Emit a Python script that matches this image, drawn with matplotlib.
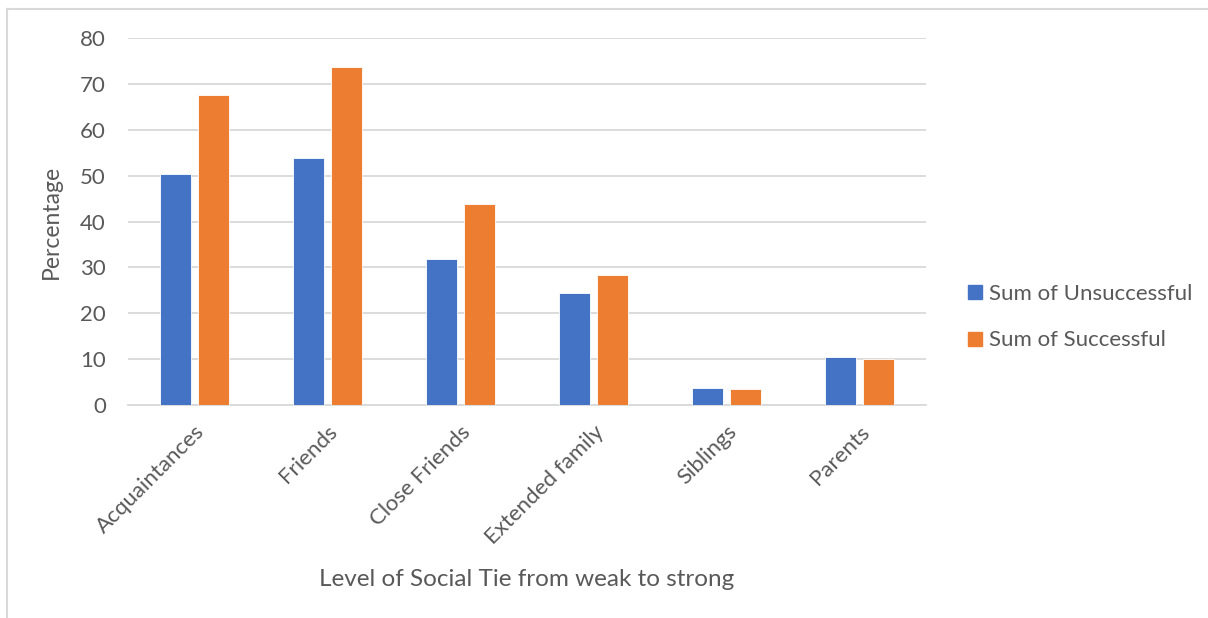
import matplotlib
matplotlib.use("Agg")
from matplotlib import pyplot as plt
from matplotlib.lines import Line2D
import numpy as np

categories = ["Acquaintances", "Friends", "Close Friends",
              "Extended family", "Siblings", "Parents"]
unsuccessful = [50.4, 53.9, 31.8, 24.5, 3.8, 10.4]
successful = [67.6, 73.8, 43.8, 28.3, 3.5, 10.0]
y_ticks = [0, 10, 20, 30, 40, 50, 60, 70, 80]

text_color = "#595959"
plt.rcParams["font.family"] = ["Lato", "DejaVu Sans"]

fig = plt.figure(figsize=(12.08, 6.18), dpi=100)
ax = fig.add_axes([128 / 1208, 1 - 405 / 618, (926 - 128) / 1208, (405 - 38.3) / 618])

x = np.arange(len(categories))
w = 0.23
gap = 0.058
ax.bar(x - (w + gap) / 2, unsuccessful, w, color="#4472C4",
       edgecolor="white", linewidth=0.6, label="Sum of Unsuccessful", zorder=3)
ax.bar(x + (w + gap) / 2, successful, w, color="#ED7D31",
       edgecolor="white", linewidth=0.6, label="Sum of Successful", zorder=3)

ax.set_xlim(-0.5, len(categories) - 0.5)
ax.set_ylim(0, 80)
ax.set_yticks(y_ticks)
ax.grid(axis="y", color="#d9d9d9", linewidth=1.3, zorder=0)
for side in ["top", "right", "left"]:
    ax.spines[side].set_visible(False)
ax.spines["bottom"].set_color("#d9d9d9")
ax.spines["bottom"].set_linewidth(1.3)
ax.tick_params(axis="y", length=0, pad=16, labelsize=16, labelcolor=text_color)
ax.tick_params(axis="x", length=0, pad=12, labelsize=16, labelcolor=text_color)

ax.set_xticks(x)
ax.set_xticklabels(categories, rotation=45, ha="right", rotation_mode="anchor")

ax.set_ylabel("Percentage", fontsize=16.5, color=text_color, labelpad=13)
fig.text(527 / 1208, 1 - 579 / 618, "Level of Social Tie from weak to strong",
         fontsize=17.5, color=text_color, ha="center", va="center")

handles = [Line2D([], [], marker="s", linestyle="none", markersize=10,
                  color=c) for c in ["#4472C4", "#ED7D31"]]
fig.legend(handles, ["Sum of Unsuccessful", "Sum of Successful"],
           loc="center left", bbox_to_anchor=(953 / 1208, 1 - 317 / 618),
           frameon=False, fontsize=16, labelcolor=text_color, borderpad=0,
           handlelength=1.0, handletextpad=0.1, labelspacing=1.2)

# light outer border (top and left only visible)
fig.add_artist(Line2D([7 / 1208, 1], [1 - 9 / 618, 1 - 9 / 618],
                      color="#d9d9d9", linewidth=1.5))
fig.add_artist(Line2D([7 / 1208, 7 / 1208], [0, 1 - 9 / 618],
                      color="#d9d9d9", linewidth=1.5))

fig.savefig("out.png", dpi=100, facecolor="white")
